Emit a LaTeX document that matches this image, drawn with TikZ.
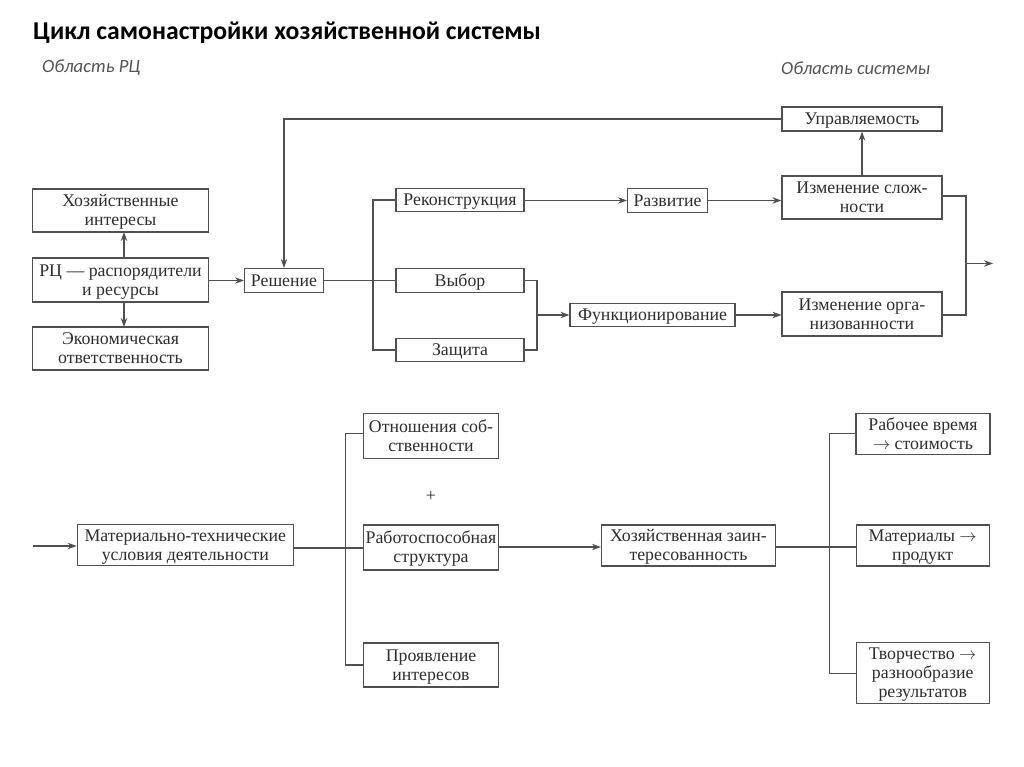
\documentclass[tikz,border=0pt]{standalone}
\usepackage{fontspec}
\setmainfont{Liberation Serif}
\newfontfamily\titlefont{Carlito}
\usetikzlibrary{arrows.meta}
\definecolor{linec}{HTML}{505050}
\definecolor{txt}{HTML}{2E2E2E}
\definecolor{subc}{HTML}{555555}
\newcommand{\fstrut}{\rule{0pt}{0.75em}}
\newcommand{\lstrut}{\rule[-0.25em]{0pt}{0.25em}}
\newcommand{\rarr}{$\rightarrow$}
\newcommand{\bx}[7][-1.4]{%
  \node[frame, minimum width=#5pt, minimum height=#6pt] (#2) at (#3,#4) {};
  \node[lbl, yshift=#1pt] (#2t) at (#2.center) {\fstrut#7\lstrut};}
\begin{document}
\begin{tikzpicture}[x=1pt,y=-1pt,
  frame/.style={draw=linec, line width=1.2pt, inner sep=0pt, anchor=center},
  lbl/.style={text=txt, font=\fontsize{17.8}{19}\selectfont, align=center, inner sep=0pt, anchor=center},
  conn/.style={draw=linec, line width=1.2pt},
  arr/.style={conn, -{Stealth[length=9pt,width=6.5pt]}},
]
\useasboundingbox[fill=white] (0,0) rectangle (1024,767);

\node[anchor=west, inner sep=0pt, font=\titlefont\bfseries\fontsize{25.7}{30}\selectfont, text=black] (title) at (33,33) {Цикл самонастройки хозяйственной системы};
\node[anchor=west, inner sep=0pt, font=\titlefont\itshape\fontsize{18.7}{22}\selectfont, text=subc] (sub1) at (42,68) {Область РЦ};
\node[anchor=west, inner sep=0pt, font=\titlefont\itshape\fontsize{18.5}{22}\selectfont, text=subc] (sub2) at (781,68) {Область системы};

% top part
\bx{hi}{120.5}{210.5}{176}{43}{Хозяйственные\\интересы}
\bx{rc}{120.5}{280}{176}{44}{РЦ — распорядители\\и ресурсы}
\bx{eo}{120.5}{348.5}{176}{43}{Экономическая\\ответственность}
\bx{resh}{284}{280.5}{79}{24}{Решение}
\bx{rek}{460}{200}{128}{23.5}{Реконструкция}
\bx{vyb}{460}{280.5}{128}{23.5}{Выбор}
\bx{zash}{460}{350}{128}{23.5}{Защита}
\bx{razv}{667.5}{200.5}{80}{24}{Развитие}
\bx{func}{652.5}{315}{165}{23}{Функционирование}
\bx{upr}{862}{119}{160}{24}{Управляемость}
\bx{isl}{862}{197.5}{160}{43}{Изменение слож-\\ности}
\bx{iorg}{862}{314}{160}{44}{Изменение орга-\\низованности}

\draw[arr] (124,258) -- (124,232);
\draw[arr] (124,302) -- (124,327);
\draw[arr] (rc.east |- resh) -- (resh.west);
\draw[arr] (upr.west) -- (284,119) -- (resh.north);
\coordinate (b1) at (373,280.5);
\draw[conn] (resh.east) -- (b1);
\draw[conn] (rek.west) -| (373,200) -- (373,350) -- (zash.west);
\draw[conn] (b1) -- (vyb.west);
\coordinate (b2) at (537,315);
\draw[conn] (vyb.east) -| (537,280) -- (537,350) -- (zash.east);
\draw[arr] (b2) -- (func.west);
\draw[arr] (rek.east |- razv) -- (razv.west);
\draw[arr] (razv.east) -- (isl.west |- razv);
\draw[arr] (func.east) -- (iorg.west |- func);
\draw[arr] (isl.north) -- (upr.south);
\coordinate (b3) at (966,263.5);
\draw[conn] (isl.east |- 0,196) -- (966,196) -- (966,315) -- (iorg.east |- 0,315);
\coordinate (out) at (993,263.5);
\draw[arr] (b3) -- (out);

% bottom part
\bx{mt}{185.3}{545.3}{216}{41}{Материально-технические\\условия деятельности}
\bx{otn}{431}{435.8}{135}{45}{Отношения соб-\\ственности}
\node[lbl] (plus) at (431,496) {+};
\bx{rab}{431}{547.5}{135}{45}{Работоспособная\\структура}
\bx{pro}{431}{665}{135}{44}{Проявление\\интересов}
\bx{hz}{688.5}{545.5}{174}{41}{Хозяйственная заин-\\тересованность}
\bx{rv}{923}{433.8}{134}{41}{Рабочее время\\\rarr{} стоимость}
\bx{mat}{922.7}{545.5}{133}{41}{Материалы \rarr\\продукт}
\bx{tv}{922.7}{673}{133}{61}{Творчество \rarr\\разнообразие\\результатов}

\coordinate (in) at (33,546);
\draw[arr] (in) -- (mt.west |- in);
\coordinate (b4) at (345.3,548);
\draw[conn] (mt.east |- b4) -- (b4);
\draw[conn] (otn.west |- 0,433.3) -- (345.3,433.3) -- (345.3,665) -- (pro.west);
\draw[conn] (b4) -- (rab.west |- b4);
\draw[arr] (rab.east |- 0,547) -- (hz.west |- 0,547);
\coordinate (b5) at (829.3,547);
\draw[conn] (hz.east |- b5) -- (b5);
\draw[conn] (rv.west) -- (829.3,433.8) -- (829.3,673.7) -- (tv.west |- 0,673.7);
\draw[conn] (b5) -- (mat.west |- b5);
\end{tikzpicture}
\end{document}
